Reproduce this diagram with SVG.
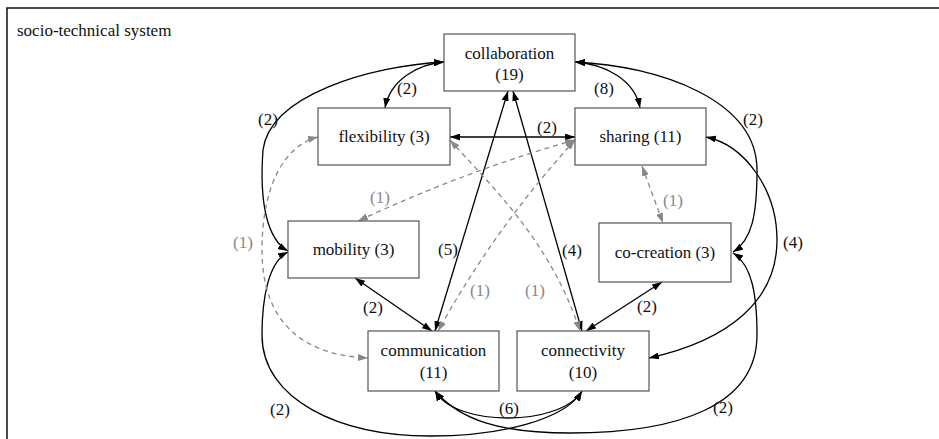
<svg xmlns="http://www.w3.org/2000/svg" width="939" height="439" viewBox="0 0 939 439">
<style>
text{font-family:"Liberation Serif","Times New Roman",serif;font-size:17px;fill:#111}
.c{text-anchor:middle}
.g{fill:#888}
.box{fill:#fff;stroke:#555;stroke-width:1.2}
.e{fill:none;stroke:#000;stroke-width:1.3}
.d{fill:none;stroke:#888;stroke-width:1.3;stroke-dasharray:5,4}
.frame{fill:none;stroke:#111;stroke-width:1.5}
</style>
<defs>
<marker id="ab" viewBox="0 0 10 7" refX="10" refY="3.5" markerWidth="10" markerHeight="7" markerUnits="userSpaceOnUse" orient="auto-start-reverse"><path d="M0,0 L10,3.5 L0,7 z" fill="#000"/></marker>
<marker id="ag" viewBox="0 0 10 7" refX="10" refY="3.5" markerWidth="10" markerHeight="7" markerUnits="userSpaceOnUse" orient="auto-start-reverse"><path d="M0,0 L10,3.5 L0,7 z" fill="#888"/></marker>
</defs>
<rect width="939" height="439" fill="#fff"/>
<path class="frame" d="M7,439 L7,8 L939,8"/>
<text x="17" y="36">socio-technical system</text>

<g id="connectors">
<path class="e" d="M444,62 C418,64 390,80 385,108" marker-start="url(#ab)" marker-end="url(#ab)"/>
<path class="e" d="M575,62 C605,64 635,80 640,108" marker-start="url(#ab)" marker-end="url(#ab)"/>
<path class="e" d="M444,62 C370,66 270,95 263,150 C259,205 268,240 288,251" marker-start="url(#ab)" marker-end="url(#ab)"/>
<path class="e" d="M288,252 C268,262 262,300 262,335 C262,400 340,436 430,436 C500,436 565,420 582,391" marker-start="url(#ab)" marker-end="url(#ab)"/>
<path class="e" d="M575,62 C660,66 757,100 757,170 C757,215 752,240 733,252" marker-start="url(#ab)" marker-end="url(#ab)"/>
<path class="e" d="M435,391 C460,420 500,433 570,433 C680,433 757,405 757,335 C757,295 752,265 733,253" marker-start="url(#ab)" marker-end="url(#ab)"/>
<path class="e" d="M706,137 C745,145 777,190 777,240 C777,300 730,340 649,358" marker-start="url(#ab)" marker-end="url(#ab)"/>
<path class="e" d="M435,331 L508,91" marker-start="url(#ab)" marker-end="url(#ab)"/>
<path class="e" d="M513,91 L582,331" marker-start="url(#ab)" marker-end="url(#ab)"/>
<path class="e" d="M450,137 L575,137" marker-start="url(#ab)" marker-end="url(#ab)"/>
<path class="e" d="M355,278 L432,331" marker-start="url(#ab)" marker-end="url(#ab)"/>
<path class="e" d="M662,282 L586,331" marker-start="url(#ab)" marker-end="url(#ab)"/>
<path class="e" d="M435,391 C455,427 560,427 582,391" marker-start="url(#ab)" marker-end="url(#ab)"/>
<path class="d" d="M575,140 Q468,170 358,221" marker-start="url(#ag)" marker-end="url(#ag)"/>
<path class="d" d="M575,140 Q495,228 438,331" marker-start="url(#ag)" marker-end="url(#ag)"/>
<path class="d" d="M450,140 C490,185 550,240 580,331" marker-start="url(#ag)" marker-end="url(#ag)"/>
<path class="d" d="M318,137 C285,145 262,185 262,250 C262,320 300,355 368,358" marker-start="url(#ag)" marker-end="url(#ag)"/>
<path class="d" d="M642,166 L663,223" marker-start="url(#ag)" marker-end="url(#ag)"/>
<text class="c" x="407" y="94">(2)</text>
<text class="c" x="604" y="94">(8)</text>
<text class="c" x="268" y="125">(2)</text>
<text class="c" x="547" y="133">(2)</text>
<text class="c" x="753" y="125">(2)</text>
<text class="c" x="793" y="248">(4)</text>
<text class="c g" x="380" y="203">(1)</text>
<text class="c g" x="243" y="248">(1)</text>
<text class="c" x="448" y="255">(5)</text>
<text class="c" x="572" y="256">(4)</text>
<text class="c g" x="673" y="206">(1)</text>
<text class="c" x="373" y="313">(2)</text>
<text class="c g" x="480" y="296">(1)</text>
<text class="c g" x="535" y="296">(1)</text>
<text class="c" x="647" y="312">(2)</text>
<text class="c" x="280" y="415">(2)</text>
<text class="c" x="509" y="414">(6)</text>
<text class="c" x="723" y="413">(2)</text>
</g>

<g id="collaboration"><rect class="box" x="444" y="34" width="131" height="57"/><text class="c" x="509.5" y="59">collaboration</text><text class="c" x="509.5" y="80">(19)</text></g>
<g id="flexibility"><rect class="box" x="318" y="108" width="132" height="57"/><text class="c" x="384" y="142">flexibility (3)</text></g>
<g id="sharing"><rect class="box" x="575" y="108" width="131" height="57"/><text class="c" x="640.5" y="142">sharing (11)</text></g>
<g id="mobility"><rect class="box" x="288" y="221" width="131" height="57"/><text class="c" x="353.5" y="255">mobility (3)</text></g>
<g id="co-creation"><rect class="box" x="599" y="223" width="132" height="59"/><text class="c" x="665" y="258">co-creation (3)</text></g>
<g id="communication"><rect class="box" x="368" y="331" width="131" height="60"/><text class="c" x="433.5" y="356">communication</text><text class="c" x="433.5" y="378">(11)</text></g>
<g id="connectivity"><rect class="box" x="517" y="331" width="132" height="60"/><text class="c" x="583" y="356">connectivity</text><text class="c" x="583" y="378">(10)</text></g>
</svg>
